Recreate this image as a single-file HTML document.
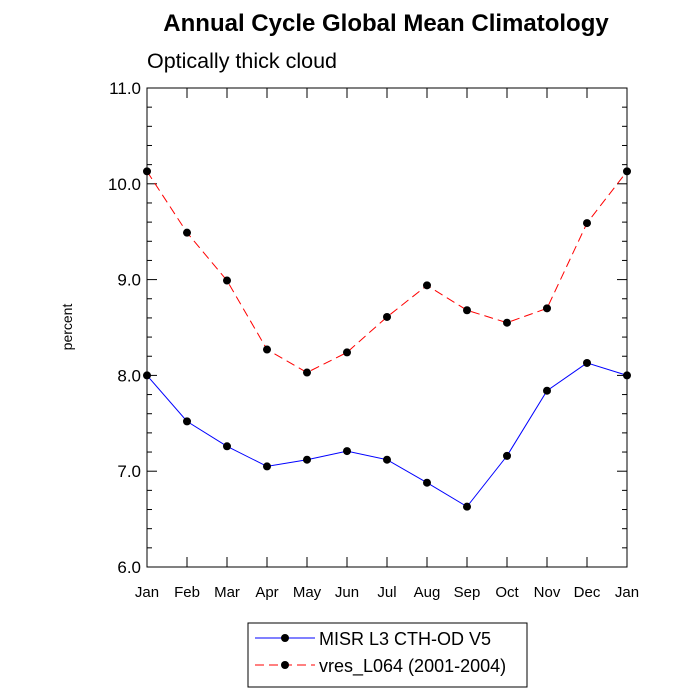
<!DOCTYPE html>
<html><head><meta charset="utf-8"><style>
body{margin:0;background:#fff}
svg{display:block;font-family:"Liberation Sans",Arial,sans-serif}
</style></head><body>
<svg id="chart" width="700" height="700" viewBox="0 0 700 700">
<text x="386" y="31" text-anchor="middle" font-size="24" font-weight="bold">Annual Cycle Global Mean Climatology</text>
<text x="147" y="68" font-size="21.5">Optically thick cloud</text>
<text transform="translate(72,327) rotate(-90)" text-anchor="middle" font-size="14">percent</text>
<g id="axes"></g>
<g id="series"></g>
<g id="legend">
<rect x="248" y="623" width="279" height="64" fill="#fff" stroke="#000" stroke-width="1"/>
<g>
<line x1="255" y1="638" x2="315" y2="638" stroke="#0000ff" stroke-width="1"/>
<circle cx="285" cy="638" r="4" fill="#000"/>
<text x="319" y="645" font-size="18">MISR L3 CTH-OD V5</text>
</g>
<g>
<line x1="255" y1="665" x2="315" y2="665" stroke="#ff0000" stroke-width="1" stroke-dasharray="9,5"/>
<circle cx="285" cy="665" r="4" fill="#000"/>
<text x="319" y="672" font-size="18">vres_L064 (2001-2004)</text>
</g>
</g>
</svg>
<script>
const months=["Jan","Feb","Mar","Apr","May","Jun","Jul","Aug","Sep","Oct","Nov","Dec","Jan"];
const misr=[8.0,7.52,7.26,7.05,7.12,7.21,7.12,6.88,6.63,7.16,7.84,8.13,8.0];
const vres=[10.13,9.49,8.99,8.27,8.03,8.24,8.61,8.94,8.68,8.55,8.70,9.59,10.13];
const yTicks=["6.0","7.0","8.0","9.0","10.0","11.0"];
const L=147,R=627,T=88,B=567,ymin=6,ymax=11;
const NS="http://www.w3.org/2000/svg";
function xs(i){return L+(R-L)*i/(months.length-1);}
function ys(v){return B-(v-ymin)/(ymax-ymin)*(B-T);}
function mk(tag,attrs,parent){const e=document.createElementNS(NS,tag);for(const k in attrs)e.setAttribute(k,attrs[k]);parent.appendChild(e);return e;}
const ax=document.getElementById("axes");
const frame=mk("rect",{x:L,y:T,width:R-L,height:B-T,fill:"none",stroke:"#000","stroke-width":1},ax);


yTicks.forEach(t=>{const v=parseFloat(t),y=ys(v);
 mk("line",{x1:L,y1:y,x2:L+10,y2:y,stroke:"#000"},ax);
 mk("line",{x1:R,y1:y,x2:R-10,y2:y,stroke:"#000"},ax);
 const tx=mk("text",{x:L-6,y:y+6,"text-anchor":"end","font-size":17},ax);tx.textContent=t;
 
 
 if(v<ymax)for(let k=1;k<5;k++){const yy=ys(v+k*0.2);
  mk("line",{x1:L,y1:yy,x2:L+5,y2:yy,stroke:"#000"},ax);
  mk("line",{x1:R,y1:yy,x2:R-5,y2:yy,stroke:"#000"},ax);}
});
months.forEach((m,i)=>{const x=xs(i);
 mk("line",{x1:x,y1:B,x2:x,y2:B-10,stroke:"#000"},ax);
 mk("line",{x1:x,y1:T,x2:x,y2:T+10,stroke:"#000"},ax);
 const tx=mk("text",{x:x,y:B+30,"text-anchor":"middle","font-size":15},ax);tx.textContent=m;
 
 
});
const sg=document.getElementById("series");
function draw(vals,color,dash,name){
 const pl=mk("polyline",{points:vals.map((v,i)=>xs(i)+","+ys(v)).join(" "),fill:"none",stroke:color,"stroke-width":1},sg);
 if(dash)pl.setAttribute("stroke-dasharray",dash);
 
 
 vals.forEach((v,i)=>{const c=mk("circle",{cx:xs(i),cy:ys(v),r:4,fill:"#000"},sg);
  
  });
}
draw(misr,"#0000ff",null,"misr");
draw(vres,"#ff0000","9,5","vres");
</script>
</body></html>
